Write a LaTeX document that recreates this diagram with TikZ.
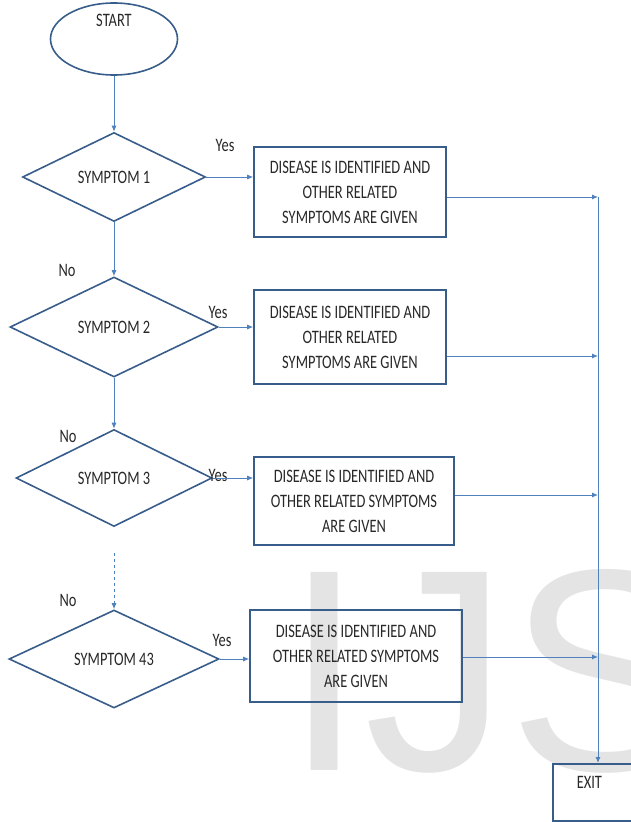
\documentclass[tikz,border=0pt]{standalone}
\usepackage{fontspec}
\setmainfont{Carlito}[FakeStretch=0.76]
\newfontfamily\markfont{Liberation Sans}
\usetikzlibrary{shapes.geometric,arrows.meta}
\definecolor{shapeline}{RGB}{56,93,138}
\definecolor{flowline}{RGB}{79,129,189}
\definecolor{markgray}{RGB}{228,228,228}
\definecolor{inkgray}{RGB}{40,40,40}

\begin{document}
\begin{tikzpicture}[x=1pt,y=-1pt,
    every node/.style={font=\fontsize{19}{25}\selectfont,text=inkgray},
    decision/.style={diamond,draw=shapeline,line width=1.6pt,inner sep=0pt},
    outcome/.style={rectangle,draw=shapeline,line width=1.6pt,align=center,inner sep=0pt},
    flow/.style={draw=flowline,line width=0.9pt,-{Latex[length=6pt,width=5pt]}}]
    \clip (0,0) rectangle (631,822);
    \node [anchor=base west,inner sep=0pt,text=markgray,font=\markfont\fontsize{288}{288}\selectfont] (mark) at (284,770) {IJS};
    \node [ellipse,draw=shapeline,line width=1.6pt,minimum width=127pt,minimum height=72pt,inner sep=0pt,text depth=38pt] (start) at (114,39) {START};
    \foreach \s/\y/\w/\h [count=\i] in {1/177/183/89,2/327/208/100,3/478/196/97,43/659/210/98}{
      \node [decision,minimum width=\w pt,minimum height=\h pt] (sym\i) at (114,\y) {SYMPTOM \s};
    }
    \node [outcome,minimum width=192pt,minimum height=90pt] (box1) at (350,192) {DISEASE IS IDENTIFIED AND\\OTHER RELATED\\SYMPTOMS ARE GIVEN};
    \node [outcome,minimum width=192pt,minimum height=94pt] (box2) at (350,337) {DISEASE IS IDENTIFIED AND\\OTHER RELATED\\SYMPTOMS ARE GIVEN};
    \node [outcome,minimum width=200pt,minimum height=88pt] (box3) at (354,501) {DISEASE IS IDENTIFIED AND\\OTHER RELATED SYMPTOMS\\ARE GIVEN};
    \node [outcome,minimum width=212pt,minimum height=92pt] (box4) at (356,656) {DISEASE IS IDENTIFIED AND\\OTHER RELATED SYMPTOMS\\ARE GIVEN};
    \node [draw=shapeline,line width=1.6pt,anchor=north west,text width=60pt,align=left,inner xsep=24pt,inner ysep=12pt,text depth=21pt] (exit) at (552,763) {EXIT};
    \node (yes1) at (225,145) {Yes};
    \node (yes2) at (218,312) {Yes};
    \node (yes3) at (218,475) {Yes};
    \node (yes4) at (222,640) {Yes};
    \node (no2) at (67,270) {No};
    \node (no3) at (68,436) {No};
    \node (no4) at (68,600) {No};
    \coordinate (join1) at (598,197);
    \coordinate (join2) at (598,356);
    \coordinate (join3) at (598,495);
    \coordinate (join4) at (598,657);
    \draw [flow] (start) -- (sym1);
    \draw [flow] (sym1) -- (sym2);
    \draw [flow] (sym2) -- (sym3);
    \draw [flow,dashed,shorten <=26pt] (sym3) -- (sym4);
    \foreach \i in {1,...,4}{
      \draw [flow] (sym\i.east) -- (sym\i.east -| box\i.west);
      \draw [flow] (box\i.east |- join\i) -- (join\i);
    }
    \draw [flow] (join1) -- (join1 |- exit.north);
\end{tikzpicture}
\end{document}
